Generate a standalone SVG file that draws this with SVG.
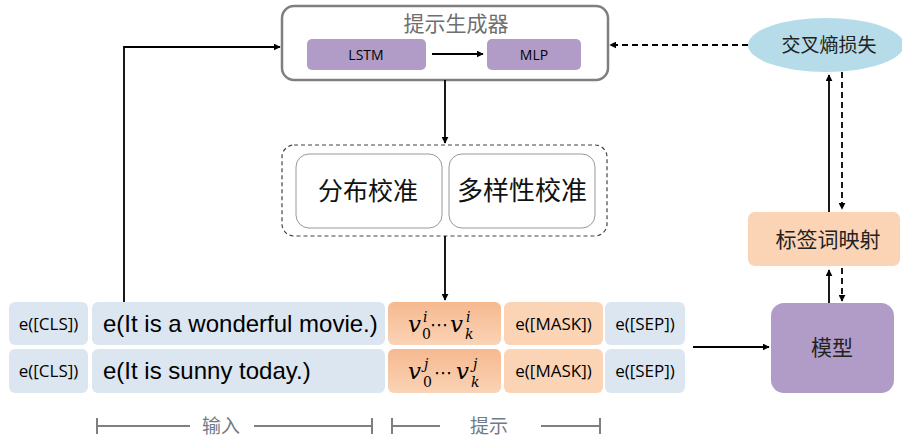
<svg xmlns="http://www.w3.org/2000/svg" width="902" height="439" viewBox="0 0 902 439">
<defs>
<marker id="ah" viewBox="0 0 10 10" refX="9" refY="5" markerWidth="7" markerHeight="7" markerUnits="userSpaceOnUse" orient="auto">
<path d="M0,0 L10,5 L0,10 z" fill="#000"/>
</marker>
<linearGradient id="vg" x1="0" y1="0" x2="0" y2="1">
<stop offset="0" stop-color="#f6b98f"/>
<stop offset="1" stop-color="#fad3b6"/>
</linearGradient>
<style>
.cn{font-family:"Noto Sans CJK SC",sans-serif;}
.lat{font-family:"Liberation Sans",Arial,sans-serif;}
.cal{font-family:"Open Sans","Liberation Sans",sans-serif;}
.cell{font-family:"Open Sans","Liberation Sans",sans-serif;font-size:17px;fill:#000;text-anchor:middle;}
.blue{fill:#dce6f1;}
.peach{fill:#fbd4b6;}
.purple{fill:#b09cc6;}
.ln{stroke:#000;stroke-width:1.8;fill:none;}
.dash{stroke:#000;stroke-width:1.8;fill:none;stroke-dasharray:6,4;}
.scale{stroke:#7f7f7f;stroke-width:2;fill:none;}
.mv{font-family:"DejaVu Serif","Liberation Serif",serif;font-style:italic;font-size:23px;fill:#000;}
.ms{font-family:"DejaVu Serif","Liberation Serif",serif;font-size:14px;fill:#000;}
.mi{font-family:"DejaVu Serif","Liberation Serif",serif;font-style:italic;font-size:14px;fill:#000;}
.dots{font-family:"DejaVu Sans",sans-serif;font-size:18px;fill:#000;}
</style>
</defs>

<g id="prompt-generator">
<rect x="282" y="6" width="326" height="74" rx="12" fill="#fff" stroke="#7f7f7f" stroke-width="2.5"/>
<text class="cn" x="456" y="31" font-size="21" fill="#6f6f6f" text-anchor="middle">提示生成器</text>
</g>
<g id="lstm">
<rect class="purple" x="307" y="39" width="119" height="31" rx="5"/>
<text class="cal" x="366" y="59.5" font-size="14" text-anchor="middle" fill="#000">LSTM</text>
</g>
<g id="mlp">
<rect class="purple" x="487" y="39" width="94" height="31" rx="5"/>
<text class="cal" x="534" y="59.5" font-size="14" text-anchor="middle" fill="#000">MLP</text>
</g>

<g id="calibration">
<rect x="282" y="145" width="325" height="91" rx="12" fill="none" stroke="#444" stroke-width="1.2" stroke-dasharray="4,3"/>
</g>
<g id="dist-calib">
<rect x="296" y="154" width="146" height="74" rx="13" fill="#fff" stroke="#999" stroke-width="1"/>
<text class="cn" x="368" y="200" font-size="25" text-anchor="middle" fill="#111">分布校准</text>
</g>
<g id="div-calib">
<rect x="449" y="154" width="146" height="74" rx="13" fill="#fff" stroke="#999" stroke-width="1"/>
<text class="cn" x="522" y="200" font-size="26" text-anchor="middle" fill="#111">多样性校准</text>
</g>

<g id="loss">
<ellipse cx="826" cy="45" rx="78" ry="27" fill="#b5dce8"/>
<text class="cn" x="829" y="52" font-size="19" text-anchor="middle" fill="#222">交叉熵损失</text>
</g>
<g id="verbalizer">
<rect x="748" y="212" width="152" height="54" rx="7" fill="#fbd4b6"/>
<text class="cn" x="828" y="247" font-size="21" text-anchor="middle" fill="#222">标签词映射</text>
</g>
<g id="model">
<rect class="purple" x="771" y="303" width="123" height="90" rx="13"/>
<text class="cn" x="832" y="355" font-size="21" text-anchor="middle" fill="#222">模型</text>
</g>

<g id="row1">
<rect class="blue" x="9" y="302" width="79" height="43" rx="6"/>
<text class="cell" x="48.5" y="330">e([CLS])</text>
<rect class="blue" x="92" y="302" width="293" height="43" rx="6"/>
<text class="lat" x="103" y="332" font-size="24" fill="#000">e(It is a wonderful movie.)</text>
<rect fill="url(#vg)" x="388" y="302" width="113" height="43" rx="6"/>
<text class="mv" x="408" y="332">v</text>
<text class="ms" x="422" y="339">0</text>
<text class="mi" x="423" y="322">i</text>
<text class="dots" x="430" y="331">⋯</text>
<text class="mv" x="450" y="332">v</text>
<text class="mi" x="465" y="339">k</text>
<text class="mi" x="466" y="322">i</text>
<rect class="peach" x="504" y="302" width="99" height="43" rx="6"/>
<text class="cell" x="553.5" y="330">e([MASK])</text>
<rect class="blue" x="605" y="302" width="80" height="43" rx="6"/>
<text class="cell" x="645" y="330">e([SEP])</text>
</g>

<g id="row2">
<rect class="blue" x="9" y="349" width="79" height="44" rx="6"/>
<text class="cell" x="48.5" y="377">e([CLS])</text>
<rect class="blue" x="92" y="349" width="293" height="44" rx="6"/>
<text class="lat" x="103" y="379" font-size="24" fill="#000">e(It is sunny today.)</text>
<rect fill="url(#vg)" x="388" y="349" width="113" height="44" rx="6"/>
<text class="mv" x="408" y="379">v</text>
<text class="ms" x="423" y="387">0</text>
<text class="mi" x="424" y="369">j</text>
<text class="dots" x="434" y="379">⋯</text>
<text class="mv" x="456" y="379">v</text>
<text class="mi" x="471" y="387">k</text>
<text class="mi" x="473" y="369">j</text>
<rect class="peach" x="504" y="349" width="99" height="44" rx="6"/>
<text class="cell" x="553.5" y="377">e([MASK])</text>
<rect class="blue" x="605" y="349" width="80" height="44" rx="6"/>
<text class="cell" x="645" y="377">e([SEP])</text>
</g>

<g id="connectors">
<line class="ln" x1="432" y1="54" x2="483" y2="54" marker-end="url(#ah)"/>
<polyline class="ln" points="124,302 124,47 280,47" marker-end="url(#ah)"/>
<line class="dash" x1="748" y1="45" x2="610" y2="45" marker-end="url(#ah)"/>
<line class="ln" x1="445" y1="80" x2="445" y2="143" marker-end="url(#ah)"/>
<line class="ln" x1="445" y1="236" x2="445" y2="300" marker-end="url(#ah)"/>
<line class="ln" x1="693" y1="347" x2="769" y2="347" marker-end="url(#ah)"/>
<line class="ln" x1="829" y1="212" x2="829" y2="75" marker-end="url(#ah)"/>
<line class="dash" x1="842" y1="72" x2="842" y2="209" marker-end="url(#ah)"/>
<line class="ln" x1="829" y1="303" x2="829" y2="270" marker-end="url(#ah)"/>
<line class="dash" x1="842" y1="268" x2="842" y2="301" marker-end="url(#ah)"/>
</g>

<g id="scale">
<path class="scale" d="M97,418 V434 M97,426 H190 M254,426 H372 M372,418 V434 M392,418 V434 M392,426 H440 M541,426 H600 M600,418 V434"/>
<text class="cn" x="221" y="433" font-size="19" text-anchor="middle" fill="#6f7b88">输入</text>
<text class="cn" x="489" y="433" font-size="19" text-anchor="middle" fill="#6f7b88">提示</text>
</g>
</svg>
